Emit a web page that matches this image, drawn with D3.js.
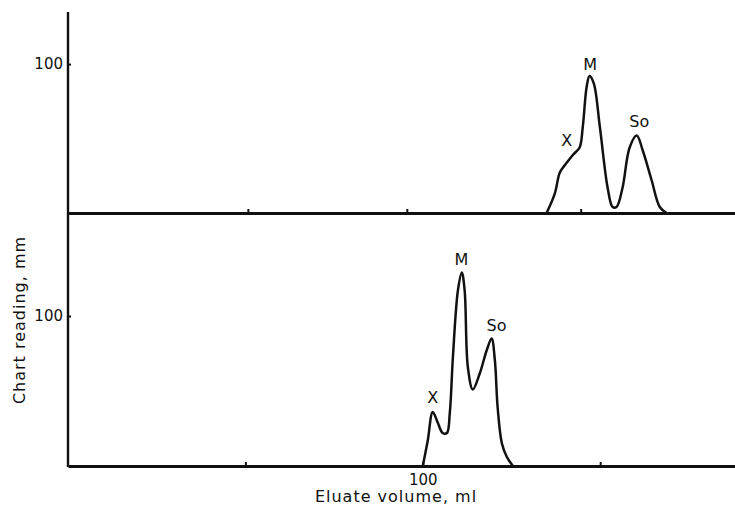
<!DOCTYPE html>
<html>
<head>
<meta charset="utf-8">
<script src="https://cdn.jsdelivr.net/npm/d3@7"></script>
<style>
	body { margin: 0; background: #fff; }
	text { font-family: "DejaVu Sans", sans-serif; fill: #111; }
</style>
</head>
<body>
<script>
// eluate volume (ml) and chart reading (mm)
const upperVolume = [134.9, 137.2, 138.6, 140.0, 142.3, 144.2, 145.1, 146.2, 147.0, 148.2, 149.9, 152.1, 153.5, 154.6, 156.3, 158.3, 160.3, 162.0, 164.5, 166.8, 168.7];
const upperReading = [0, 13, 27, 32, 39, 44, 58, 85, 92, 87, 58, 17, 4, 4, 17, 44, 52, 42, 22, 4, 0];

const lowerVolume = [100.0, 101.4, 102.8, 104.2, 105.6, 106.8, 107.6, 108.5, 109.9, 111.0, 111.8, 112.7, 114.1, 116.1, 118.0, 119.4, 120.3, 121.1, 122.3, 123.7, 125.4];
const lowerReading = [0, 17, 36, 29, 22, 22, 35, 73, 117, 129, 117, 66, 51, 62, 77, 85, 71, 39, 15, 6, 0];

const peakNames = ["X", "M", "So"];
const upperPeakVolume = [140.6, 147.2, 161.0];
const upperPeakReading = [45, 96, 58];
const lowerPeakVolume = [102.8, 110.9, 120.8];
const lowerPeakReading = [42, 134, 90];

const upperXTicks = [50.7, 95.5, 144.5];
const lowerXTicks = [50, 100, 150];
const yTicks = [100];

const w = 735;
const h = 508;

const svg = d3.select("body")
	.append("svg")
	.attr("width", w)
	.attr("height", h);

const x = d3.scaleLinear().domain([0, 188]).range([68, 735]);
const yUp = d3.scaleLinear().domain([0, 135]).range([213, 12]);
const yLow = d3.scaleLinear().domain([0, 169]).range([466, 212.5]);

const stroke = "#111";

function panel(vol, reading, y, xTicks, showLabel, peakV, peakR) {
	const g = svg.append("g");

	// baseline with small upward ticks
	g.append("g")
		.attr("transform", "translate(0," + y(0) + ")")
		.call(d3.axisBottom(x)
			.tickValues(xTicks)
			.tickSizeInner(-4)
			.tickSizeOuter(0)
			.tickPadding(8)
			.tickFormat(d => (showLabel && d === 100) ? "100" : ""))
		.call(a => a.select(".domain").attr("stroke", stroke).attr("stroke-width", 2.8))
		.call(a => a.selectAll(".tick line").attr("stroke", stroke).attr("stroke-width", 2))
		.call(a => a.selectAll(".tick text").attr("font-size", 15).attr("font-family", "DejaVu Sans").attr("fill", "#111"));

	g.append("g")
		.attr("transform", "translate(" + x(0) + ",0)")
		.call(d3.axisLeft(y)
			.tickValues(yTicks)
			.tickSizeInner(-3)
			.tickSizeOuter(0)
			.tickPadding(5)
			.tickFormat(d3.format("d")))
		.call(a => a.select(".domain").remove())
		.call(a => a.selectAll(".tick line").attr("stroke", stroke).attr("stroke-width", 2))
		.call(a => a.selectAll(".tick text").attr("font-size", 15).attr("font-family", "DejaVu Sans").attr("fill", "#111"));

	const pts = vol.map((v, i) => [v, reading[i]]);
	g.append("path")
		.datum(pts)
		.attr("fill", "none")
		.attr("stroke", stroke)
		.attr("stroke-width", 2.5)
		.attr("stroke-linejoin", "round")
		.attr("d", d3.line()
			.x(d => x(d[0]))
			.y(d => y(d[1]))
			.curve(d3.curveCatmullRom.alpha(0.5)));

	g.selectAll(".peak")
		.data(peakNames)
		.enter()
		.append("text")
		.attr("x", (d, i) => x(peakV[i]))
		.attr("y", (d, i) => y(peakR[i]))
		.attr("text-anchor", "middle")
		.attr("font-size", 16)
		.text(d => d);
}

panel(upperVolume, upperReading, yUp, upperXTicks, false, upperPeakVolume, upperPeakReading);
panel(lowerVolume, lowerReading, yLow, lowerXTicks, true, lowerPeakVolume, lowerPeakReading);

// shared vertical axis line
svg.append("line")
	.attr("x1", x(0)).attr("x2", x(0))
	.attr("y1", yUp.range()[1]).attr("y2", yLow(0) + 1)
	.attr("stroke", stroke)
	.attr("stroke-width", 2.4);

svg.append("text")
	.attr("transform", "translate(25," + 320 + ") rotate(-90)")
	.attr("text-anchor", "middle")
	.attr("font-size", 16)
	.attr("letter-spacing", 1)
	.text("Chart reading, mm");

svg.append("text")
	.attr("x", 396)
	.attr("y", 502)
	.attr("text-anchor", "middle")
	.attr("font-size", 16)
	.attr("letter-spacing", 1)
	.text("Eluate volume, ml");
</script>
</body>
</html>
